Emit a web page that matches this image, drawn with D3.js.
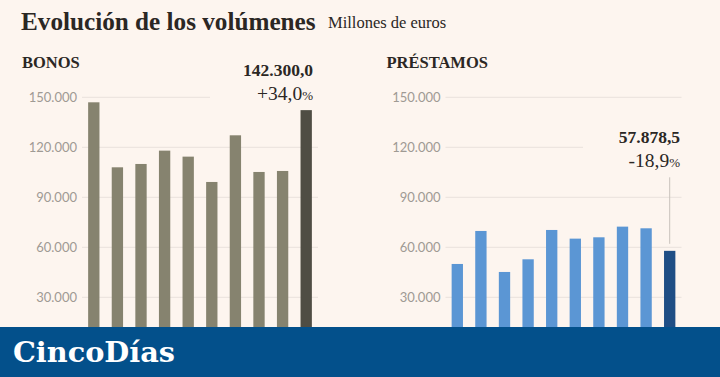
<!DOCTYPE html>
<html>
<head>
<meta charset="utf-8">
<script src="https://cdn.jsdelivr.net/npm/d3@7"></script>
<style>
  html, body { margin: 0; padding: 0; background: #fdf5ef; }
  svg { display: block; }
</style>
</head>
<body>
<svg id="chart" width="720" height="377"></svg>
<script>
// ---- Data ----
const periods = ["P1","P2","P3","P4","P5","P6","P7","P8","P9","P10"];
const bonosValues = [147000, 108000, 110000, 118000, 114400, 99200, 127200, 105200, 105800, 142300];
const prestamosValues = [50000, 69800, 45200, 52800, 70400, 65200, 66000, 72400, 71400, 57878.5];
const tickValues = [30000, 60000, 90000, 120000, 150000];
const tickLabels = ["30.000", "60.000", "90.000", "120.000", "150.000"];
const bonosAnnotation = ["142.300,0", "+34,0"];
const prestamosAnnotation = ["57.878,5", "-18,9"];

const svg = d3.select("#chart");
const W = 720, H = 377;
const bg = "#fdf5ef";
svg.append("rect").attr("width", W).attr("height", H).attr("fill", bg);

const y = d3.scaleLinear().domain([0, 150000]).range([347.3, 97.3]);

// Title
svg.append("text").attr("x", 21).attr("y", 29.5)
  .attr("font-family", "'Liberation Serif', serif").attr("font-weight", "bold")
  .attr("font-size", 25.2).attr("fill", "#2b2724")
  .text("Evolución de los volúmenes");
svg.append("text").attr("x", 328).attr("y", 28)
  .attr("font-family", "'Liberation Serif', serif")
  .attr("font-size", 16.5).attr("fill", "#2b2724")
  .text("Millones de euros");

function panel(opts) {
  const g = svg.append("g");
  const x = d3.scaleBand().domain(periods).range([opts.x0, opts.x1])
    .paddingInner(0.52).paddingOuter(0.26);

  g.append("text").attr("x", opts.titleX).attr("y", 67.7)
    .attr("font-family", "'Liberation Serif', serif").attr("font-weight", "bold")
    .attr("font-size", 16.5).attr("fill", "#2b2724").text(opts.title);

  // gridlines
  g.selectAll("line.grid").data(tickValues).join("line")
    .attr("x1", opts.x0).attr("x2", opts.x1)
    .attr("y1", d => y(d)).attr("y2", d => y(d))
    .attr("stroke", "#e9e2dc").attr("stroke-width", 1);

  // tick labels via axis
  const axis = d3.axisLeft(y).tickValues(tickValues)
    .tickFormat((d, i) => tickLabels[i]).tickSize(0).tickPadding(0);
  const ag = g.append("g").attr("transform", `translate(${opts.x0 - 5},0)`).call(axis);
  ag.select(".domain").remove();
  ag.selectAll("text").attr("font-family", "Lato, sans-serif").attr("font-size", 13)
    .attr("fill", "#9f9a94");

  // bars
  g.selectAll("rect.bar").data(opts.values).join("rect")
    .attr("x", (d, i) => x(periods[i])).attr("width", x.bandwidth())
    .attr("y", d => y(d)).attr("height", d => y(0) - y(d))
    .attr("fill", (d, i) => i === opts.values.length - 1 ? opts.lastColor : opts.color);

  // annotation mask
  g.append("rect").attr("x", opts.maskX).attr("y", opts.maskY)
    .attr("width", opts.x1 + 2 - opts.maskX).attr("height", 46).attr("fill", bg);

  const last = periods[periods.length - 1];
  const ax = opts.textRight;
  g.append("text").attr("x", ax).attr("y", opts.annY).attr("text-anchor", "end")
    .attr("font-family", "'Liberation Serif', serif").attr("font-weight", "bold")
    .attr("font-size", 17.5).attr("fill", "#2b2724").text(opts.ann[0]);
  const t2 = g.append("text").attr("x", ax).attr("y", opts.annY + 24).attr("text-anchor", "end")
    .attr("font-family", "'Liberation Serif', serif")
    .attr("font-size", 19.5).attr("fill", "#2b2724");
  t2.append("tspan").text(opts.ann[1]);
  t2.append("tspan").attr("font-size", 13).text("%");

  if (opts.leader) {
    const cx = x(last) + x.bandwidth() / 2;
    g.append("line").attr("x1", cx).attr("x2", cx)
      .attr("y1", opts.annY + 34).attr("y2", y(opts.values[opts.values.length - 1]) - 7)
      .attr("stroke", "#c8c2bc").attr("stroke-width", 1);
  }
}

panel({
  title: "BONOS", titleX: 22, x0: 82, x1: 318, values: bonosValues,
  color: "#86836f", lastColor: "#4f4d44", ann: bonosAnnotation,
  maskX: 210, maskY: 58, textRight: 313, annY: 76, leader: false
});
panel({
  title: "PRÉSTAMOS", titleX: 386.5, x0: 445.5, x1: 681.5, values: prestamosValues,
  color: "#5b96d4", lastColor: "#1f4e85", ann: prestamosAnnotation,
  maskX: 583, maskY: 126, textRight: 680, annY: 143.3, leader: true
});

// Footer
svg.append("rect").attr("x", 0).attr("y", 327).attr("width", W).attr("height", H - 327)
  .attr("fill", "#03508b");
svg.append("text").attr("x", 13).attr("y", 362)
  .attr("font-family", "'DejaVu Serif', serif").attr("font-weight", "bold").attr("font-size", 27)
  .attr("textLength", 162).attr("lengthAdjust", "spacingAndGlyphs")
  .attr("fill", "#ffffff").text("CincoDías");
</script>
</body>
</html>
